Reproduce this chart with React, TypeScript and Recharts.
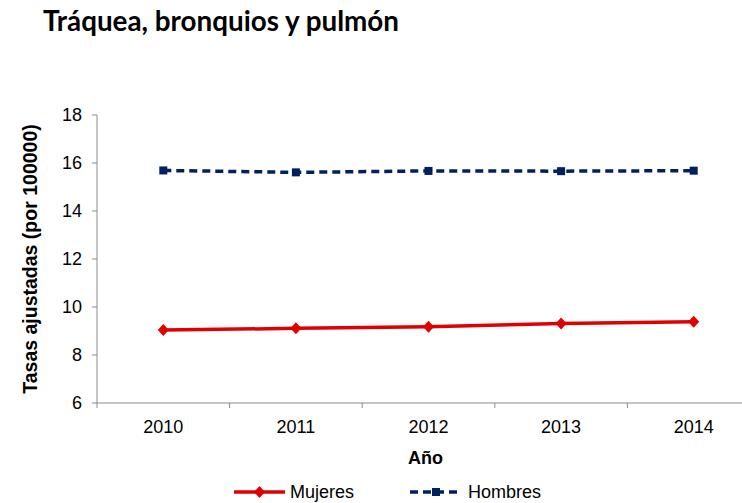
import React from 'react';
import { LineChart, Line, XAxis, YAxis } from 'recharts';

const years = [2010, 2011, 2012, 2013, 2014];
const mujeres = [9.04, 9.11, 9.18, 9.31, 9.39];
const hombres = [15.69, 15.61, 15.67, 15.66, 15.68];
const yTicks = [6, 8, 10, 12, 14, 16, 18];

const data = years.map((year, i) => ({ year, Mujeres: mujeres[i], Hombres: hombres[i] }));
// tick marks sit between the years, like the category axis of the original
const boundaries = [...years.map((y) => y - 0.5), years[years.length - 1] + 0.5];
const xTicks = [...years, ...boundaries].sort((a, b) => a - b);

const RED = '#e00000';
const NAVY = '#002060';
const AXIS = '#8c8c8c';
const FONT = '"Liberation Sans", Arial, sans-serif';

const Diamond = (props: any) => {
  const { cx, cy } = props;
  if (cx == null || cy == null) return null;
  return <polygon points={`${cx},${cy - 6} ${cx + 5.5},${cy} ${cx},${cy + 6} ${cx - 5.5},${cy}`} fill={RED} />;
};

const Square = (props: any) => {
  const { cx, cy } = props;
  if (cx == null || cy == null) return null;
  return <rect x={cx - 4} y={cy - 4} width={8} height={8} fill={NAVY} />;
};

// years get a label, half-years get the small tick mark
const XTick = (props: any) => {
  const { x, y, payload } = props;
  if (Number.isInteger(payload.value)) {
    return (
      <text x={x} y={y + 30} textAnchor="middle" fontFamily={FONT} fontSize={18} fill="#000">
        {payload.value}
      </text>
    );
  }
  return <line x1={x} y1={y} x2={x} y2={y + 5} stroke={AXIS} />;
};

const YLabel = (props: any) => {
  const vb = props.viewBox || {};
  const cy = vb.y + vb.height / 2;
  return (
    <text x={37} y={cy} transform={`rotate(-90, 37, ${cy})`} textAnchor="middle"
      fontFamily={FONT} fontWeight="bold" fontSize={19.5} fill="#000">
      Tasas ajustadas (por 100000)
    </text>
  );
};

const XLabel = (props: any) => {
  const vb = props.viewBox || {};
  return (
    <text x={vb.x + vb.width / 2 - 3} y={464} textAnchor="middle"
      fontFamily={FONT} fontWeight="bold" fontSize={18} fill="#000">
      Año
    </text>
  );
};

const ChartLegend = () => (
  <div style={{ position: 'absolute', left: 234, top: 482, display: 'flex', alignItems: 'center', fontFamily: FONT, fontSize: 18, color: '#000', lineHeight: '20px' }}>
    <svg width={56} height={14}>
      <line x1={0} y1={7} x2={51} y2={7} stroke={RED} strokeWidth={3.5} />
      <polygon points="25.5,1 31,7 25.5,13 20,7" fill={RED} />
    </svg>
    <span style={{ marginRight: 56 }}>Mujeres</span>
    <svg width={58} height={14}>
      <line x1={0} y1={7} x2={52} y2={7} stroke={NAVY} strokeWidth={3.5} strokeDasharray="8 5" />
      <rect x={22} y={3} width={8} height={8} fill={NAVY} />
    </svg>
    <span>Hombres</span>
  </div>
);

export default function App() {
  return (
    <div style={{ position: 'absolute', left: 0, top: 0, width: 742, height: 503, overflow: 'hidden', background: '#fff' }}>
      <div style={{ position: 'absolute', left: 43, top: 4, fontFamily: 'Lato, sans-serif', fontWeight: 700, fontSize: 27.8, color: '#000', whiteSpace: 'nowrap' }}>
        Tráquea, bronquios y pulmón
      </div>
      <LineChart width={780} height={503} data={data} margin={{ top: 115, right: 20, left: 0, bottom: 50 }}>
        <XAxis dataKey="year" type="number" domain={[2009.5, 2014.5]} ticks={xTicks} interval={0} height={50}
          axisLine={{ stroke: AXIS }} tickLine={false} tickSize={0} tickMargin={0}
          tick={<XTick />} label={<XLabel />} />
        <YAxis domain={[6, 18]} ticks={yTicks} width={97} axisLine={{ stroke: AXIS }} tickLine={{ stroke: AXIS }}
          tickSize={5} tickMargin={10} tick={{ fontFamily: FONT, fontSize: 18, fill: '#000' }} label={<YLabel />} />
        <Line dataKey="Mujeres" stroke={RED} strokeWidth={3.5} dot={<Diamond />} activeDot={false} isAnimationActive={false} />
        <Line dataKey="Hombres" stroke={NAVY} strokeWidth={3.5} strokeDasharray="8 5" dot={<Square />} activeDot={false} isAnimationActive={false} />
      </LineChart>
      <ChartLegend />
    </div>
  );
}
